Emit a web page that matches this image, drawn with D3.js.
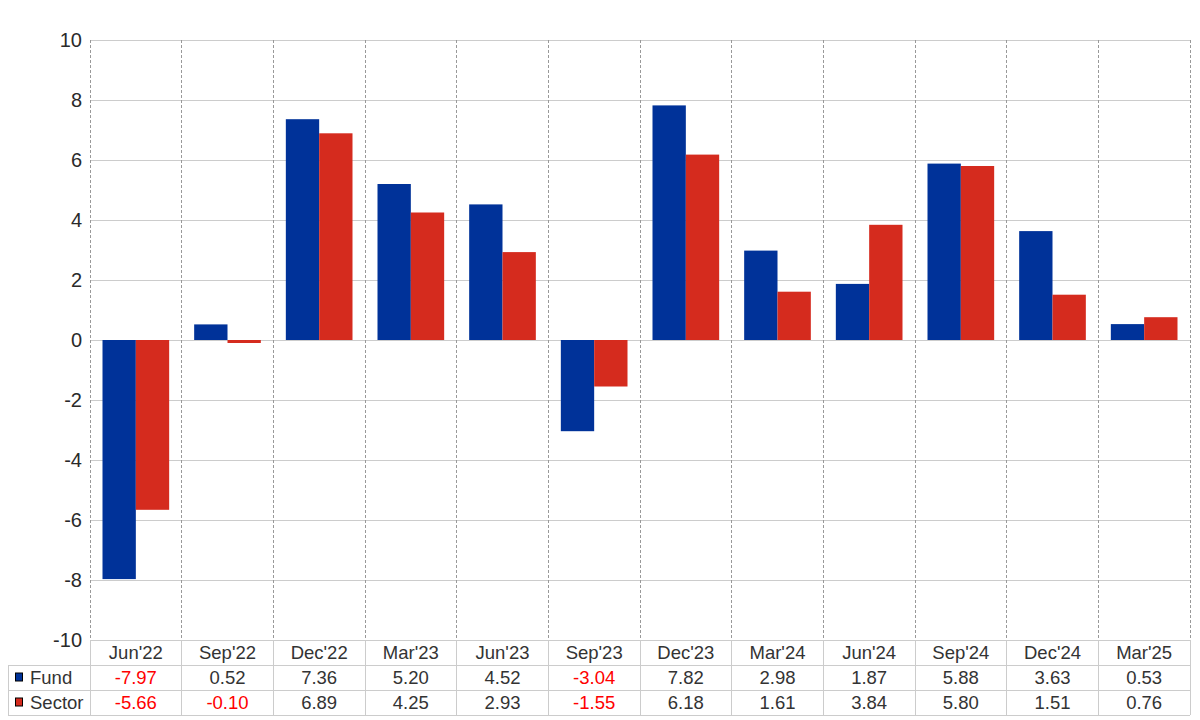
<!DOCTYPE html>
<html><head><meta charset="utf-8">
<script src="https://cdn.jsdelivr.net/npm/d3@7"></script>
<style>body{margin:0;background:#fff;font-family:"Liberation Sans",Arial,sans-serif;}</style>
</head><body>
<svg id="c" width="1200" height="720"></svg>
<script>
const categories = ["Jun'22","Sep'22","Dec'22","Mar'23","Jun'23","Sep'23","Dec'23","Mar'24","Jun'24","Sep'24","Dec'24","Mar'25"];
const fund = [-7.97,0.52,7.36,5.20,4.52,-3.04,7.82,2.98,1.87,5.88,3.63,0.53];
const sector = [-5.66,-0.10,6.89,4.25,2.93,-1.55,6.18,1.61,3.84,5.80,1.51,0.76];
const seriesNames = ["Fund","Sector"];
const colors = ["#003299","#d52b1e"];
const yTicks = [-10,-8,-6,-4,-2,0,2,4,6,8,10];

const svg = d3.select("#c");
const L=90,R=1190,T=40,B=640;
const x = d3.scaleBand().domain(categories).range([L,R]).paddingInner(0).paddingOuter(0);
const x1 = d3.scaleBand().domain(seriesNames).range([0,x.bandwidth()]).paddingInner(0).paddingOuter(0.375);
const y = d3.scaleLinear().domain([-10,10]).range([B,T]);

svg.append("g").selectAll("line").data(yTicks).join("line")
  .attr("x1",L).attr("x2",R).attr("y1",d=>y(d)).attr("y2",d=>y(d))
  .attr("stroke","#cccccc").attr("stroke-width",1).attr("shape-rendering","crispEdges");
const vb = categories.map(c=>x(c)).concat([R]);
svg.append("g").selectAll("line").data(vb).join("line")
  .attr("x1",d=>d).attr("x2",d=>d).attr("y1",T).attr("y2",B)
  .attr("stroke","#999999").attr("stroke-width",1).attr("stroke-dasharray","3,2").attr("shape-rendering","crispEdges");

const data = categories.map((c,i)=>({c, vals:[fund[i],sector[i]]}));
const g = svg.append("g").selectAll("g").data(data).join("g").attr("transform",d=>`translate(${x(d.c)},0)`);
g.selectAll("rect").data(d=>d.vals.map((v,j)=>({v,s:seriesNames[j],j}))).join("rect")
  .attr("x",d=>x1(d.s)).attr("width",x1.bandwidth())
  .attr("y",d=>y(Math.max(0,d.v))).attr("height",d=>Math.abs(y(d.v)-y(0)))
  .attr("fill",d=>colors[d.j]);

const yAxis = d3.axisLeft(y).tickValues(yTicks).tickSize(0).tickPadding(8).tickFormat(d=>String(d));
const ya = svg.append("g").attr("transform",`translate(${L},0)`).call(yAxis);
ya.select(".domain").remove();
ya.selectAll("text").attr("font-size",20).attr("fill","#2a2a2a").attr("font-family","Liberation Sans, Arial, sans-serif");

const rowH=25, tTop=B, tLeft=8;
const tbl = svg.append("g");
const lineC="#cccccc";
[[L,tTop],[tLeft,tTop+rowH],[tLeft,tTop+2*rowH],[tLeft,tTop+3*rowH]].forEach(([x0,yy])=>{
  tbl.append("line").attr("x1",x0).attr("x2",R).attr("y1",yy).attr("y2",yy).attr("stroke",lineC).attr("shape-rendering","crispEdges");
});
vb.forEach(v=>tbl.append("line").attr("x1",v).attr("x2",v).attr("y1",tTop).attr("y2",tTop+3*rowH).attr("stroke",lineC).attr("shape-rendering","crispEdges"));
tbl.append("line").attr("x1",tLeft).attr("x2",tLeft).attr("y1",tTop+rowH).attr("y2",tTop+3*rowH).attr("stroke",lineC).attr("shape-rendering","crispEdges");

const fs=18.5;
tbl.selectAll("text.cat").data(categories).join("text").attr("class","cat")
  .attr("x",d=>x(d)+x.bandwidth()/2).attr("y",tTop+rowH/2).attr("dy","0.35em")
  .attr("text-anchor","middle").attr("font-size",fs).attr("fill","#333").text(d=>d);
[fund,sector].forEach((arr,r)=>{
  const yy = tTop+rowH*(r+1)+rowH/2;
  tbl.append("rect").attr("x",15.5).attr("y",yy-4.5).attr("width",7).attr("height",8)
    .attr("fill",colors[r]).attr("stroke","#000").attr("stroke-width",1);
  tbl.append("text").attr("x",30).attr("y",yy).attr("dy","0.35em").attr("font-size",fs).attr("fill","#333").text(seriesNames[r]);
  tbl.selectAll(null).data(arr).join("text")
    .attr("x",(d,i)=>x(categories[i])+x.bandwidth()/2).attr("y",yy).attr("dy","0.35em")
    .attr("text-anchor","middle").attr("font-size",fs).attr("fill",d=>d<0?"#ff0000":"#333").text(d=>d.toFixed(2));
});
</script>
</body></html>
